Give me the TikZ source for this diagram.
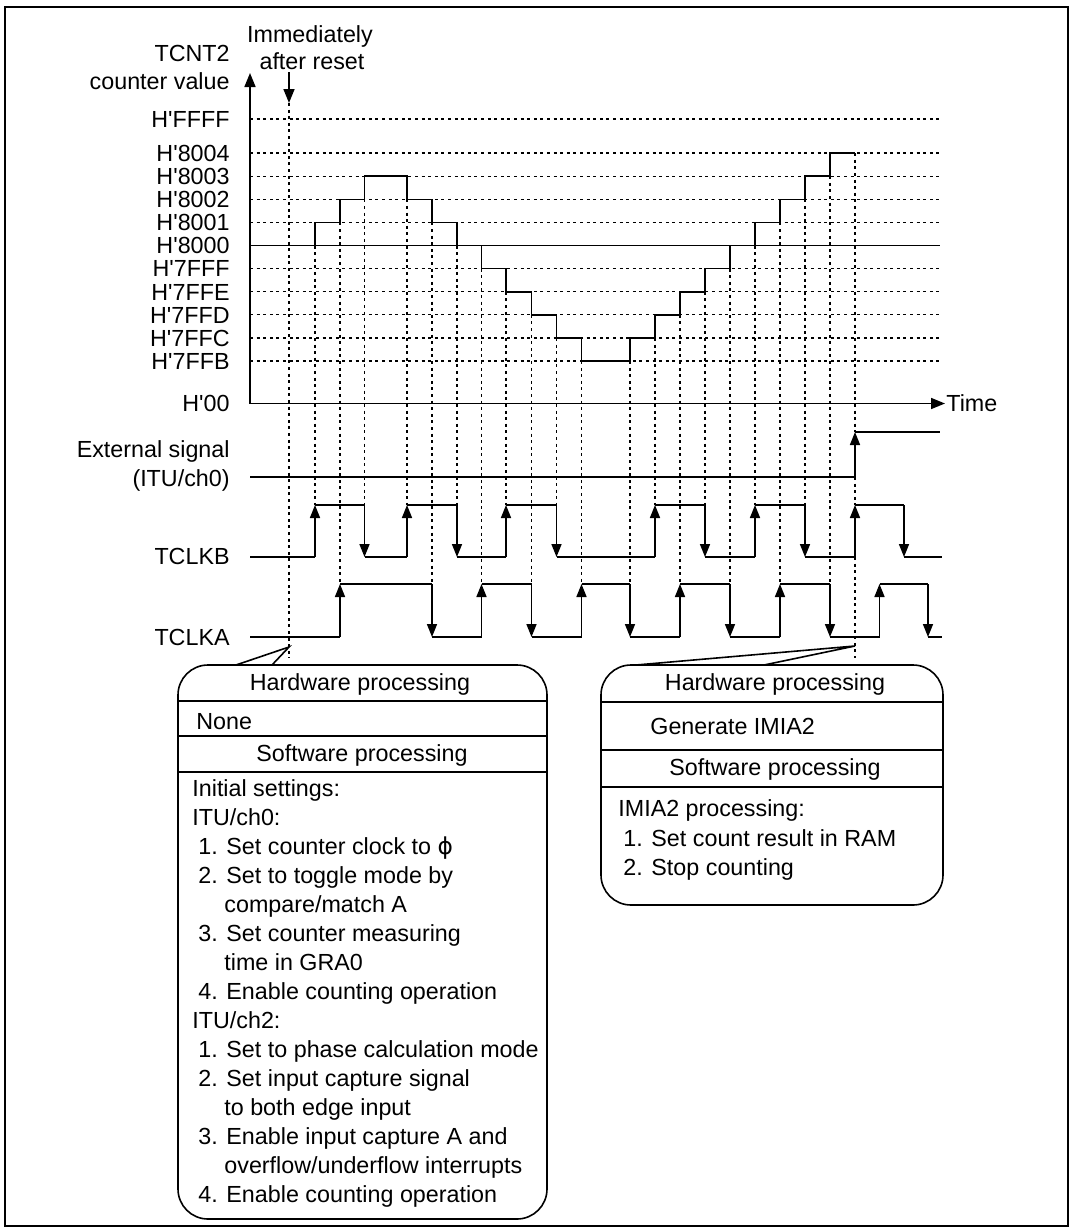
\documentclass[tikz,border=0pt]{standalone}
\usepackage{fontspec}
\setmainfont{Liberation Sans}[Ligatures=TeXOff]
\newfontfamily\djvfont{DejaVu Sans}
\usetikzlibrary{arrows.meta}
\begin{document}
\begin{tikzpicture}[x=0.5pt,y=-0.5pt,
  font=\fontsize{11.65pt}{14pt}\selectfont,
  sig/.style={line width=0.8pt},
  gridl/.style={line width=0.65pt, dash pattern=on 1.5pt off 1.8pt},
  edgearr/.style={sig,-{Triangle[length=6.5pt,width=5pt]}},
  axarr/.style={sig,-{Triangle[length=7pt,width=5.5pt]}},
  lbl/.style={anchor=base east, inner sep=0pt},
  txt/.style={anchor=base west, inner sep=0pt},
  ctr/.style={anchor=base, inner sep=0pt}]
\useasboundingbox (0,0) rectangle (1074,1232);
% frame
\draw[line width=1.1pt] (5,7) rectangle (1068,1226);

% axis labels
\node[lbl] (tcnt) at (230,61) {TCNT2};
\node[lbl] (cval) at (230,89) {counter value};
\node[ctr] (imm) at (310,42) {Immediately};
\node[ctr] (aft) at (312,69) {after reset};

% level labels and dotted lines
\foreach \yy/\lab/\nm in {119/FFFF/lF,153.1/8004/l4,176.2/8003/l3,199.3/8002/l2,222.4/8001/l1,245.5/8000/l0,268.6/7FFF/m1,291.7/7FFE/m2,314.8/7FFD/m3,337.9/7FFC/m4,361/7FFB/m5,403.5/00/lz}
  \node[lbl] (\nm) at (230,\yy+8.3) {H'\lab};
\foreach \yy in {119,153.1,176.2,199.3,222.4,268.6,291.7,314.8,337.9,361}
  \draw[gridl] (250,\yy) -- (940,\yy);
\draw[sig] (250,245.5) -- (940,245.5);

% axes
\coordinate (orig) at (250,403.5);
\coordinate (ytip) at (250,73);
\coordinate (xtip) at (945,403.5);
\draw[axarr] (orig) -- (ytip);
\draw[axarr] (orig) -- (xtip);
\node[anchor=base west, inner sep=0pt] (time) at (946,411.8) {Time};

% reset arrow and line
\coordinate (rsTop) at (289,72);
\coordinate (rsTip) at (289,103);
\draw[axarr] (rsTop) -- (rsTip);
\draw[gridl] (rsTip) -- (289,658);

% staircase
\draw[sig] (315,245.5)--(315,222.4)--(340,222.4)--(340,199.3)--(364.5,199.3)--(364.5,176.2)--(407,176.2)--(407,199.3)--(432,199.3)--(432,222.4)--(457,222.4)--(457,245.5)--(481.5,245.5)--(481.5,268.6)--(506,268.6)--(506,291.7)--(531.5,291.7)--(531.5,314.8)--(556.5,314.8)--(556.5,337.9)--(581.5,337.9)--(581.5,361)--(630,361)--(630,337.9)--(655,337.9)--(655,314.8)--(680,314.8)--(680,291.7)--(705,291.7)--(705,268.6)--(730,268.6)--(730,245.5)--(755,245.5)--(755,222.4)--(780,222.4)--(780,199.3)--(805,199.3)--(805,176.2)--(830,176.2)--(830,153.1)--(855,153.1);

% dotted verticals: TCLKB events
\foreach \xx/\ys in {315/245.5,364.5/199.3,407/199.3,457/245.5,506/291.7,556.5/337.9,655/337.9,705/291.7,755/245.5,805/199.3}
  \draw[gridl] (\xx,\ys) -- (\xx,505);
% dotted verticals: TCLKA events
\foreach \xx/\ys in {340/222.4,432/222.4,481.5/268.6,531.5/314.8,581.5/361,630/361,680/314.8,730/268.6,780/222.4,830/176.2}
  \draw[gridl] (\xx,\ys) -- (\xx,584);
% final event line
\draw[gridl] (855,153.1) -- (855,432);
\draw[gridl] (855,477) -- (855,505);
\draw[gridl] (855,557) -- (855,658);

% external signal
\node[lbl] (ext1) at (230,457.5) {External signal};
\node[lbl] (ext2) at (230,486) {(ITU/ch0)};
\draw[sig] (250,477) -- (855,477);
\draw[edgearr] (855,477) -- (855,432);
\draw[sig] (855,432) -- (940,432);

% TCLKB
\node[lbl] (tb) at (230,564.5) {TCLKB};
\draw[sig] (250,557)--(315,557) (315,505)--(364.5,505) (364.5,557)--(407,557) (407,505)--(457,505) (457,557)--(506,557) (506,505)--(556.5,505) (556.5,557)--(655,557) (655,505)--(705,505) (705,557)--(755,557) (755,505)--(805,505) (805,557)--(855,557) (855,505)--(904,505) (904,557)--(942,557);
\foreach \xx in {315,407,506,655,755,855} \draw[edgearr] (\xx,557) -- (\xx,505);
\foreach \xx in {364.5,457,556.5,705,805,904} \draw[edgearr] (\xx,505) -- (\xx,557);

% TCLKA
\node[lbl] (ta) at (230,645) {TCLKA};
\draw[sig] (250,637)--(340,637) (340,584)--(432,584) (432,637)--(481.5,637) (481.5,584)--(531.5,584) (531.5,637)--(581.5,637) (581.5,584)--(630,584) (630,637)--(680,637) (680,584)--(730,584) (730,637)--(780,637) (780,584)--(830,584) (830,637)--(879.5,637) (879.5,584)--(928,584) (928,637)--(942,637);
\foreach \xx in {340,481.5,581.5,680,780,879.5} \draw[edgearr] (\xx,637) -- (\xx,584);
\foreach \xx in {432,531.5,630,730,830,928} \draw[edgearr] (\xx,584) -- (\xx,637);

% left box
\draw[sig, rounded corners=15pt] (178,665) rectangle (547,1219);
\draw[sig] (178,701) -- (547,701);
\draw[sig] (178,736) -- (547,736);
\draw[sig] (178,772) -- (547,772);
\coordinate (apL) at (289,647);
\draw[sig] (236,665) -- (apL) -- (272,665);
\node[ctr] (lh) at (360,690) {Hardware processing};
\node[txt] (ln) at (196,729) {None};
\node[ctr] (ls) at (362,761) {Software processing};
\node[txt] (t1) at (192,796) {Initial settings:};
\node[txt] (t2) at (192,825) {ITU/ch0:};
\node[txt] (t3) at (198,854) {1. Set counter clock to {\djvfont ϕ}};
\node[txt] (t4) at (198,883) {2. Set to toggle mode by};
\node[txt] (t5) at (224,912) {compare/match A};
\node[txt] (t6) at (198,941) {3. Set counter measuring};
\node[txt] (t7) at (224,970) {time in GRA0};
\node[txt] (t8) at (198,999) {4. Enable counting operation};
\node[txt] (t9) at (192,1028) {ITU/ch2:};
\node[txt] (t10) at (198,1057) {1. Set to phase calculation mode};
\node[txt] (t11) at (198,1086) {2. Set input capture signal};
\node[txt] (t12) at (224,1115) {to both edge input};
\node[txt] (t13) at (198,1144) {3. Enable input capture A and};
\node[txt] (t14) at (224,1173) {overflow/underflow interrupts};
\node[txt] (t15) at (198,1202) {4. Enable counting operation};

% right box
\draw[sig, rounded corners=15pt] (601,665) rectangle (943,905);
\draw[sig] (601,702) -- (943,702);
\draw[sig] (601,750) -- (943,750);
\draw[sig] (601,787) -- (943,787);
\coordinate (apR) at (855,646);
\draw[sig] (636,665) -- (apR) -- (764,665);
\node[ctr] (rh) at (775,690) {Hardware processing};
\node[txt] (rg) at (650,734) {Generate IMIA2};
\node[ctr] (rs) at (775,775) {Software processing};
\node[txt] (r1) at (618,816) {IMIA2 processing:};
\node[txt] (r2) at (623,846) {1. Set count result in RAM};
\node[txt] (r3) at (623,875) {2. Stop counting};
\end{tikzpicture}
\end{document}
